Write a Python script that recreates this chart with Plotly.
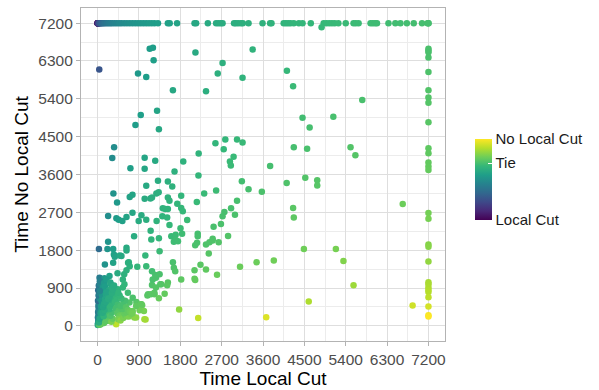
import numpy as np
import plotly.graph_objects as go

# Time with local cut (x) and without local cut (y), seconds (7200 = time limit)
top_row_local = [2, 2, 3, 4, 5, 8, 12, 20, 30, 45, 60, 80, 100, 130, 160, 200, 240, 280, 320,
                 370, 420, 470, 520, 580, 640, 700, 760, 820, 880, 940, 1000, 1060, 1120, 1180,
                 1240, 1315, 1530, 1570, 1730, 2110, 2145, 2400, 2580, 2630, 2680, 2720, 2970,
                 3010, 3060, 3120, 3160, 3285, 3590, 3755, 3785, 4050, 4100, 4150, 4200, 4270,
                 4380, 4460, 4640, 4920, 4980, 5040, 5100, 5160, 5240, 5400, 5570, 5620, 5680,
                 5940, 5990, 6040, 6080, 6330, 6480, 6590, 6730, 6880, 7060, 7180, 7200, 7200]
top_row_nolocal = [7200] * len(top_row_local)

limit_col_nolocal = [6590, 6550, 6510, 6380, 6040, 5605, 5430, 5305, 4840, 4225, 4105, 3885,
                     3790, 3710, 2685, 2545, 1935, 1880, 1530, 1040, 990, 910, 855, 805, 680,
                     460, 255, 220]
limit_col_local = [7200] * len(limit_col_nolocal)

scatter_pairs = [
    (4875, 7100), (37, 6095), (1135, 6590), (1205, 6615), (1220, 6315), (880, 6000), (1060, 5920),
    (2130, 6500), (3375, 6575), (2720, 6250), (2615, 6000), (3155, 5900), (4120, 6070),
    (4255, 5700), (1640, 5605), (2360, 5580), (5760, 5370), (940, 5015), (1295, 5115),
    (4460, 4950), (5130, 4975), (825, 4775), (1335, 4675), (4615, 4720), (360, 4250),
    (320, 3990), (715, 3750), (1025, 4000), (1255, 3930), (1025, 3735), (1675, 3670),
    (1865, 3910), (2200, 4100), (2565, 4345), (2780, 4435), (2745, 4200), (3035, 4435),
    (3155, 4360), (2960, 4025), (2880, 3910), (2900, 3815), (2195, 3575), (3755, 3800),
    (4270, 4250), (4560, 4215), (5505, 4250), (5610, 4060), (4115, 3395), (4520, 3520),
    (4780, 3465), (4780, 3340), (3140, 3440), (3285, 3250), (3575, 3190), (2580, 3220),
    (2320, 3150), (1530, 3435), (1315, 3450), (1625, 3315), (1060, 3330), (345, 3150),
    (425, 2935), (230, 2615), (410, 2560), (460, 2525), (540, 2495), (630, 2590), (760, 2690),
    (700, 3065), (760, 3120), (955, 2630), (895, 2495), (1060, 2525), (1025, 3025),
    (1150, 3030), (1185, 3055), (1280, 3150), (1330, 3175), (1420, 2795), (1475, 2780),
    (1530, 2780), (1530, 3055), (1565, 2975), (1735, 2905), (1820, 2805), (1855, 2725),
    (1950, 2520), (1410, 2605), (1515, 2575), (1155, 2260), (1565, 2400), (1285, 2495),
    (1805, 2320), (1820, 3095), (2160, 2945), (2525, 2360), (2685, 2425), (2720, 2605),
    (2760, 2710), (2905, 2795), (2990, 2645), (3035, 2975), (4255, 2805), (4270, 2580),
    (6640, 2900), (795, 2130), (1170, 2055), (1335, 2085), (1605, 2130), (1700, 2165),
    (1840, 2190), (2180, 2190), (2180, 2130), (2505, 2070), (2840, 2140), (30, 1830),
    (215, 1830), (340, 1830), (355, 1700), (375, 1645), (520, 1660), (630, 1855), (630, 1790),
    (160, 1460), (340, 1500), (435, 1250), (580, 1225), (665, 1500), (700, 1420), (630, 1325),
    (1040, 1675), (865, 1405), (1060, 1420), (1185, 1300), (1255, 1210), (1350, 1775),
    (1660, 2000), (1700, 2040), (1750, 2010), (2125, 1920), (2165, 1975), (2360, 1935),
    (2435, 1990), (2505, 2030), (2635, 1990), (2420, 1720), (1640, 1515), (1660, 1380),
    (1690, 1300), (1350, 1225), (2240, 1455), (2110, 1325), (2360, 1340), (2600, 1215),
    (2110, 1120), (2125, 1090), (1820, 1105), (1530, 1030), (1515, 965), (1385, 990),
    (1185, 970), (1240, 750), (1335, 655), (1085, 725), (3100, 1405), (3460, 1515),
    (3835, 1555), (4490, 1830), (5185, 1830), (5350, 1540), (5570, 965), (4595, 580),
    (6855, 485), (1775, 390), (2190, 190), (3670, 205), (1045, 150), (800, 200), (955, 515),
    (970, 490), (1010, 355), (915, 370), (845, 570), (1100, 750), (1460, 765), (1365, 990),
    (1200, 1105), (1270, 1145), (485, 1675), (230, 2000), (680, 1515), (550, 1105), (585, 990),
    (440, 870), (550, 910), (660, 790), (765, 670), (695, 555), (840, 475), (945, 515),
    (43, 1145), (150, 1130), (260, 1185), (765, 355), (840, 200), (1020, 160), (405, 40),
    (1160, 750), (1235, 790), (1270, 910),
]

cluster_pairs = [
    (5, 20), (10, 60), (15, 120), (8, 200), (20, 260), (12, 330), (25, 400), (18, 470), (30, 540),
    (10, 600), (40, 650), (22, 720), (35, 780), (15, 850), (45, 900), (28, 960), (60, 1000),
    (50, 1060), (70, 120), (80, 200), (65, 300), (90, 380), (75, 460), (100, 520), (85, 600),
    (110, 680), (95, 740), (120, 820), (105, 880), (130, 950), (140, 1020), (160, 940),
    (150, 860), (175, 790), (190, 720), (165, 640), (200, 580), (180, 500), (210, 430),
    (195, 350), (225, 280), (205, 200), (240, 200), (220, 120), (140, 70), (120, 90), (160, 150),
    (55, 40), (30, 25), (100, 60), (180, 110), (60, 30), (300, 100), (330, 170), (280, 240),
    (310, 320), (260, 400), (290, 470), (320, 540), (270, 620), (340, 680), (230, 760),
    (250, 850), (300, 900), (360, 960), (380, 820), (350, 760), (400, 700), (420, 620),
    (380, 560), (440, 500), (400, 420), (460, 360), (430, 300), (490, 250), (470, 230),
    (520, 220), (450, 160), (500, 130), (560, 190), (600, 260), (640, 230), (680, 220),
    (720, 280), (580, 300), (620, 330), (540, 400), (500, 470), (560, 540), (600, 600),
    (520, 650), (480, 720), (450, 790), (620, 440), (660, 380), (700, 340), (740, 320),
    (760, 300), (30, 80), (45, 170), (130, 230), (110, 310), (150, 380), (120, 450),
    (140, 520), (170, 570), (230, 640), (260, 700), (200, 800), (310, 780), (330, 860),
    (280, 1000), (50, 830), (195, 1105), (280, 1030), (340, 950),
]

time_local = top_row_local + limit_col_local + [p[0] for p in scatter_pairs] + [p[0] for p in cluster_pairs]
time_nolocal = top_row_nolocal + limit_col_nolocal + [p[1] for p in scatter_pairs] + [p[1] for p in cluster_pairs]

axis_ticks = [0, 900, 1800, 2700, 3600, 4500, 5400, 6300, 7200]
legend_labels = ["Local Cut", "Tie", "No Local Cut"]

x = np.array(time_local, dtype=float)
y = np.array(time_nolocal, dtype=float)
ratio = np.log10(x / y)
cmin, cmax = float(ratio.min()), float(ratio.max())

font_family = "Liberation Sans, Arial, sans-serif"

fig = go.Figure(go.Scatter(
    x=x, y=y, mode="markers",
    marker=dict(
        size=6.5, color=ratio, colorscale="Viridis", cmin=cmin, cmax=cmax,
        line=dict(width=0),
        colorbar=dict(
            tickvals=[cmin, 0, cmax], ticktext=legend_labels,
            ticks="inside", tickcolor="white", ticklen=4, tickwidth=1,
            outlinewidth=0, thickness=17, thicknessmode="pixels",
            len=81, lenmode="pixels",
            x=1.082, xanchor="left", y=0.485, yanchor="middle",
            xpad=0, ypad=0,
            tickfont=dict(family=font_family, size=15, color="#1a1a1a"),
        ),
    ),
    hoverinfo="skip",
))

axis_common = dict(
    range=[-360, 7560], tickvals=axis_ticks, ticktext=[str(t) for t in axis_ticks],
    showgrid=True, gridcolor="#dedede", gridwidth=1,
    minor=dict(dtick=900, tick0=450, showgrid=True, gridcolor="#ececec", gridwidth=0.6),
    zeroline=False, showline=True, linecolor="#b3b3b3", linewidth=1.2, mirror=True,
    ticks="outside", ticklen=4, tickcolor="#b3b3b3", tickwidth=1,
    automargin=False,
    tickfont=dict(family=font_family, size=15.5, color="#4d4d4d"),
)

fig.update_layout(
    width=599, height=390,
    margin=dict(l=81, r=154, t=8, b=49, autoexpand=False),
    paper_bgcolor="white", plot_bgcolor="white",
    showlegend=False,
    xaxis=dict(axis_common, title=dict(text="Time Local Cut", standoff=2,
               font=dict(family=font_family, size=19, color="black"))),
    yaxis=dict(axis_common, title=dict(text="Time No Local Cut", standoff=4,
               font=dict(family=font_family, size=19, color="black"))),
)

fig.write_html("out.html", config={"displayModeBar": False},
               post_script="document.body.style.margin='0';")
